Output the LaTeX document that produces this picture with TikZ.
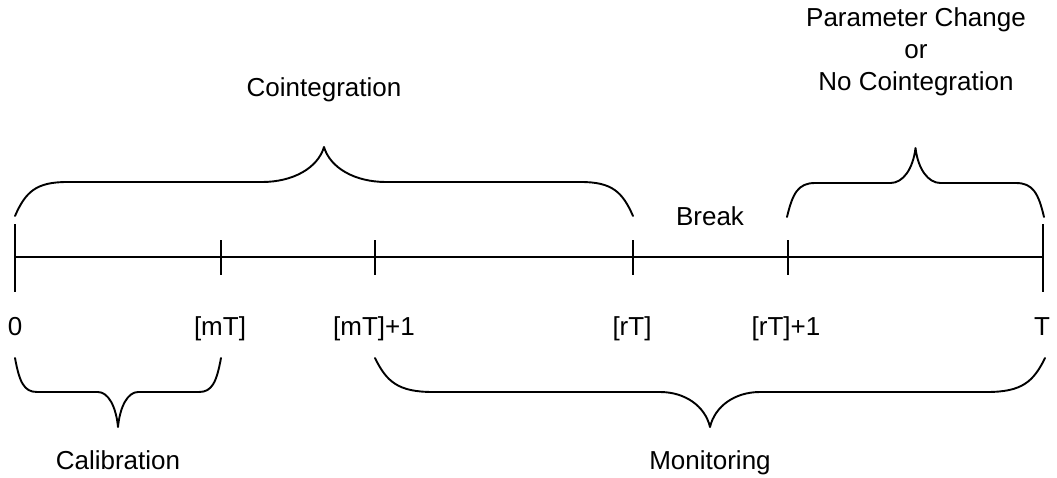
\documentclass[tikz,border=0pt]{standalone}
\usepackage{fontspec}
\setmainfont{Liberation Sans}
\usetikzlibrary{calc}

% Curly brace between two x positions.
% #1 left x, #2 right x, #3 y of the ends, #4 y of the flat part,
% #5 y of the tip, #6 length of the end bends, #7 length of the tip bends
\newcommand{\spanbrace}[7]{%
  \pgfmathsetmacro\bracemid{(#1+#2)/2}%
  \draw[bracestroke]
    (#1,#3) .. controls ({#1+0.2*#6},{#3+0.7*(#4-#3)}) and ({#1+0.4*#6},#4) .. ({#1+#6},#4)
    -- ({\bracemid-#7},#4)
    .. controls ({\bracemid-0.5*#7},#4) and ({\bracemid-0.1*#7},{#4+0.4*(#5-#4)}) .. (\bracemid,#5)
    .. controls ({\bracemid+0.1*#7},{#4+0.4*(#5-#4)}) and ({\bracemid+0.5*#7},#4) .. ({\bracemid+#7},#4)
    -- ({#2-#6},#4)
    .. controls ({#2-0.4*#6},#4) and ({#2-0.2*#6},{#3+0.7*(#4-#3)}) .. (#2,#3);%
}

\begin{document}
\begin{tikzpicture}[x=1pt,y=-1pt,
  axisstroke/.style={line width=1.9pt,black},
  bracestroke/.style={line width=1.9pt,black,line cap=round,line join=round},
  ticklabel/.style={anchor=base,inner sep=0pt,font=\fontsize{26}{31.5}\selectfont},
  caption/.style={inner sep=0pt,font=\fontsize{26}{32}\selectfont,align=center}]

\useasboundingbox (0,0) rectangle (1057,477);

% positions on the time axis
\coordinate (t0)  at (15,257);
\coordinate (tm)  at (221,257);
\coordinate (tm1) at (375,257);
\coordinate (tr)  at (633,257);
\coordinate (tr1) at (788,257);
\coordinate (tT)  at (1043,257);

% axis and ticks
\draw[axisstroke] (t0) -- (tT);
\draw[axisstroke] ($(t0)+(0,-33)$) -- ($(t0)+(0,35)$);
\draw[axisstroke] ($(tT)+(0,-33)$) -- ($(tT)+(0,35)$);
\foreach \p in {tm,tm1,tr,tr1}
  \draw[axisstroke] ($(\p)+(0,-17)$) -- ($(\p)+(0,18)$);

% tick labels
\node[ticklabel] (l0)   at (15,335)   {0};
\node[ticklabel] (lm)   at (220,335)  {[mT]};
\node[ticklabel] (lm1)  at (374,335)  {[mT]+1};
\node[ticklabel] (lr)   at (632,335)  {[rT]};
\node[ticklabel] (lr1)  at (786,335)  {[rT]+1};
\node[ticklabel] (lT)   at (1042,335) {T};

% braces above the axis
\spanbrace{15}{633}{216}{182}{147}{52}{62}
\spanbrace{787}{1044}{217}{183}{148}{28}{25}

% braces below the axis
\spanbrace{15}{221}{358}{392}{427}{22}{20}
\spanbrace{375}{1045}{358}{392}{427}{58}{50}

% captions
\node[ticklabel] (coint) at (324,96)  {Cointegration};
\node[ticklabel] (brk)   at (710,225) {Break};
\node[caption]   (chg)   at (916,52)  {Parameter Change\\or\\No Cointegration};
\node[ticklabel] (calib) at (118,469) {Calibration};
\node[ticklabel] (mon)   at (710,469) {Monitoring};

\end{tikzpicture}
\end{document}
